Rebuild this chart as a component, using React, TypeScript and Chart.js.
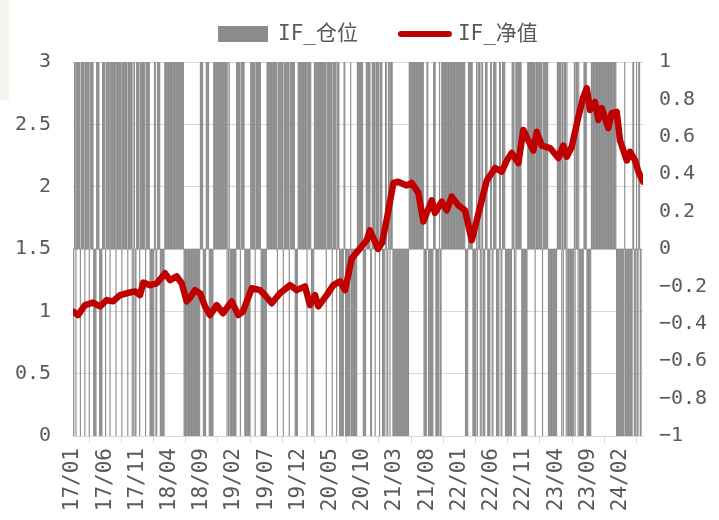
import { useEffect, useRef } from 'react';
import { Chart, registerables } from 'chart.js';

Chart.register(...registerables);

// x-axis tick labels, one every 5 months starting 2017-01
const tickLabels = [
  '17/01', '17/06', '17/11', '18/04', '18/09', '19/02', '19/07', '19/12', '20/05',
  '20/10', '21/03', '21/08', '22/01', '22/06', '22/11', '23/04', '23/09', '24/02',
];

// IF_净值 (net value, left axis): time in months since 2017-01, value
const netMonths = [
  0, 0.78, 1.86, 3.1, 4.19, 5.23, 6.21, 7.3, 8.34, 9.63, 10.4, 10.9, 11.96, 13.0, 14.29,
  15.06, 16.1, 16.88, 17.66, 18.17, 18.94, 19.72, 20.5, 21.27, 22.31, 23.29, 24.64, 25.67,
  26.4, 27.75, 29.04, 29.81, 30.85, 32.14, 33.7, 34.74, 36.02, 36.8, 37.58, 38.09, 39.39,
  40.42, 41.46, 42.24, 43.28, 44.57, 45.6, 46.1, 46.7, 47.36, 47.98, 48.76, 49.74, 50.47,
  51.82, 52.6, 53.62, 54.4, 55.7, 56.2, 57.25, 58.03, 58.8, 59.83, 60.87, 61.91, 62.69,
  63.46, 64.24, 65.53, 66.57, 67.35, 68.12, 69.15, 69.92, 70.7, 71.48, 72.0, 72.78, 74.07,
  75.36, 76.13, 76.66, 77.44, 78.46, 79.24, 79.77, 80.28, 81.06, 81.57, 82.1, 83.12, 83.65,
  84.42, 84.94, 85.98, 86.49, 87.27, 87.78, 88.5,
];
const netValues = [
  1.0, 0.97, 1.05, 1.07, 1.04, 1.09, 1.08, 1.13, 1.145, 1.16, 1.13, 1.23, 1.21, 1.225, 1.305,
  1.25, 1.28, 1.225, 1.08, 1.11, 1.17, 1.145, 1.04, 0.97, 1.05, 0.985, 1.08, 0.97,
  1.0, 1.185, 1.17, 1.13, 1.065, 1.145, 1.21, 1.17, 1.2, 1.05, 1.13, 1.04, 1.13,
  1.21, 1.24, 1.17, 1.425, 1.505, 1.57, 1.65, 1.58, 1.5, 1.55, 1.75, 2.03, 2.04,
  2.01, 2.03, 1.95, 1.72, 1.89, 1.79, 1.88, 1.81, 1.92, 1.85, 1.81, 1.57, 1.73,
  1.89, 2.05, 2.15, 2.12, 2.21, 2.27, 2.19, 2.455, 2.37, 2.29, 2.44, 2.33, 2.31,
  2.23, 2.33, 2.24, 2.32, 2.56, 2.72, 2.79, 2.615, 2.68, 2.535, 2.63, 2.47, 2.59,
  2.6, 2.37, 2.21, 2.28, 2.21, 2.12, 2.04,
];

// IF_仓位 (position, right axis), in half-week steps, as runs of [position, number of steps]
const positionRuns: [number, number][] = [
  [-1, 2],
  [1, 2], [-1, 1], [1, 5], [-1, 1], [1, 5], [-1, 1], [1, 5], [-1, 1], [1, 5],
  [-1, 4], [1, 4], [-1, 4],
  [1, 4], [-1, 1], [1, 5], [-1, 1], [1, 7], [-1, 1], [1, 7], [-1, 1], [1, 7], [-1, 1], [1, 5], [-1, 1], [1, 1], [-1, 1], [1, 1],
  [-1, 2],
  [1, 4], [-1, 1], [1, 7], [-1, 1], [1, 5],
  [-1, 6], [1, 2], [-1, 2], [1, 4], [-1, 6],
  [1, 26],
  [-1, 22],
  [1, 4], [-1, 4], [1, 4], [-1, 6],
  [1, 18], [-1, 1], [1, 1], [-1, 1], [1, 1],
  [-1, 8],
  [-1, 1], [1, 5], [-1, 1], [1, 5],
  [-1, 8],
  [1, 6], [-1, 1], [1, 7],
  [-1, 8],
  [1, 14], [-1, 1], [1, 7], [-1, 1], [1, 7], [-1, 1], [1, 7],
  [-1, 4],
  [1, 12], [-1, 1], [1, 5],
  [-1, 4],
  [1, 16], [-1, 1], [1, 7], [-1, 1], [1, 5], [-1, 1], [1, 3],
  [-1, 6], [1, 2], [-1, 7], [1, 1],
  [-1, 8],
  [1, 8],
  [-1, 4],
  [1, 6],
  [-1, 2],
  [1, 4], [-1, 1], [1, 5], [-1, 1], [1, 3],
  [-1, 4], [1, 2], [-1, 2],
  [1, 2], [-1, 1], [1, 3],
  [-1, 22],
  [1, 20],
  [-1, 4], [1, 2], [-1, 7], [1, 3],
  [-1, 5], [1, 1], [-1, 2],
  [1, 32],
  [-1, 4], [1, 6], [-1, 5],
  [1, 1], [-1, 1], [1, 3], [-1, 1], [1, 1], [-1, 1], [1, 1],
  [-1, 3], [1, 3],
  [-1, 4], [1, 2], [-1, 2], [1, 4], [-1, 4], [1, 2], [-1, 2],
  [1, 4],
  [-1, 9], [1, 3], [-1, 1], [1, 1], [-1, 1], [1, 7],
  [-1, 8],
  [1, 10], [-1, 1], [1, 9], [-1, 1], [1, 7],
  [-1, 12],
  [1, 6], [-1, 1], [1, 1], [-1, 1], [1, 3], [-1, 1], [1, 1],
  [-1, 9], [1, 1], [-1, 1], [1, 3], [-1, 1], [1, 1],
  [-1, 6],
  [1, 4],
  [-1, 6],
  [1, 34],
  [-1, 11], [1, 1], [-1, 10],
  [1, 2], [-1, 3], [1, 1], [-1, 2], [1, 2], [-1, 2],
];

const STEP_IN_MONTHS = 6 / 52.18;
const X_MAX_MONTHS = 88.5;

const TEXT_COLOR = '#595959';
const BAR_COLOR = '#8c8c8c';
const LINE_COLOR = '#c00000';
const GRID_COLOR = '#d9d9d9';
const MONO = '"DejaVu Sans Mono", "Noto Sans CJK SC", monospace';

const legendPlugin = {
  id: 'ifLegend',
  afterDraw(chart: any) {
    const { ctx } = chart;
    const [bar, line] = chart.data.datasets;
    const y = 34;
    ctx.save();
    ctx.font = `21px ${MONO}`;
    ctx.textBaseline = 'middle';
    let x = 218;
    ctx.fillStyle = bar.backgroundColor;
    ctx.fillRect(x, y - 8, 50, 16);
    x += 60;
    ctx.fillStyle = TEXT_COLOR;
    ctx.fillText(bar.label, x, y + 1);
    x += ctx.measureText(bar.label).width + 40;
    ctx.strokeStyle = line.borderColor;
    ctx.lineWidth = 6;
    ctx.lineCap = 'round';
    ctx.beginPath();
    ctx.moveTo(x + 3, y);
    ctx.lineTo(x + 51, y);
    ctx.stroke();
    x += 60;
    ctx.fillText(line.label, x, y + 1);
    ctx.restore();
  },
};

function fmt(v: number) {
  const r = Math.round(v * 10) / 10;
  return (r < 0 ? '\u2212' : '') + String(Math.abs(r));
}

export default function App() {
  const ref = useRef<HTMLCanvasElement>(null);

  useEffect(() => {
    const positions: { x: number; y: number }[] = [];
    let s = 0;
    for (const [v, n] of positionRuns) {
      for (let k = 0; k < n; k++) {
        positions.push({ x: s * STEP_IN_MONTHS, y: v });
        s++;
      }
    }
    const net = netMonths.map((m, i) => ({ x: m, y: netValues[i] }));

    const chart = new Chart(ref.current!, {
      type: 'bar',
      data: {
        datasets: [
          {
            type: 'bar',
            label: 'IF_仓位',
            data: positions,
            yAxisID: 'y1',
            backgroundColor: BAR_COLOR,
            borderWidth: 0,
            barPercentage: 1,
            categoryPercentage: 1,
            inflateAmount: 0.2,
            grouped: false,
            order: 2,
          },
          {
            type: 'line',
            label: 'IF_净值',
            data: net,
            yAxisID: 'y',
            borderColor: LINE_COLOR,
            backgroundColor: LINE_COLOR,
            borderWidth: 6.5,
            borderJoinStyle: 'round',
            borderCapStyle: 'round',
            pointRadius: 0,
            tension: 0,
            order: 1,
          },
        ] as any,
      },
      options: {
        responsive: false,
        animation: false,
        layout: { padding: { top: 62, left: 0, right: 0, bottom: 0 } },
        plugins: { legend: { display: false }, tooltip: { enabled: false } },
        scales: {
          x: {
            type: 'linear',
            min: 0,
            max: X_MAX_MONTHS,
            offset: false,
            afterFit: (sc: any) => { sc.height = 84; },
            border: { display: true, color: GRID_COLOR, width: 1 },
            grid: { drawOnChartArea: false, drawTicks: true, tickLength: 7, color: GRID_COLOR },
            ticks: {
              stepSize: 5,
              includeBounds: false,
              autoSkip: false,
              minRotation: 90,
              maxRotation: 90,
              padding: 5,
              color: TEXT_COLOR,
              font: { family: MONO, size: 21 },
              callback: (v: any) => tickLabels[Math.round(Number(v) / 5)] ?? '',
            },
          },
          y: {
            position: 'left',
            min: 0,
            max: 3,
            afterFit: (sc: any) => { sc.width = 73; },
            border: { display: false },
            grid: { color: GRID_COLOR, lineWidth: 1, drawTicks: false },
            ticks: {
              stepSize: 0.5,
              padding: 22,
              color: TEXT_COLOR,
              font: { family: MONO, size: 20 },
              callback: (v: any) => fmt(Number(v)),
            },
          },
          y1: {
            position: 'right',
            min: -1,
            max: 1,
            afterFit: (sc: any) => { sc.width = 76; },
            border: { display: false },
            grid: { display: false, drawTicks: false },
            ticks: {
              stepSize: 0.2,
              padding: 16,
              color: TEXT_COLOR,
              font: { family: MONO, size: 20 },
              callback: (v: any) => fmt(Number(v)),
            },
          },
        },
      } as any,
      plugins: [legendPlugin],
    });
    return () => chart.destroy();
  }, []);

  return (
    <div style={{ position: 'absolute', left: 0, top: 0, width: 719, height: 520, background: '#ffffff' }}>
      <div style={{ position: 'absolute', left: 0, top: 0, width: 9, height: 100, background: '#f7f4f0' }} />
      <canvas ref={ref} width={719} height={520} style={{ position: 'absolute', left: 0, top: 0, width: 719, height: 520 }} />
    </div>
  );
}
